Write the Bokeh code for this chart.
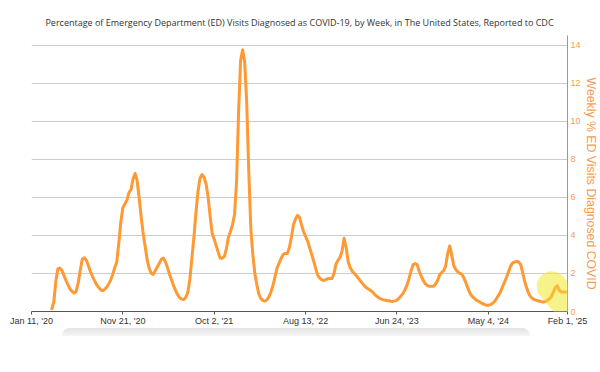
import math
import pandas as pd
from bokeh.plotting import figure
from bokeh.models import Range1d, FixedTicker, Div, Title, PolyAnnotation
from bokeh.layouts import column
from bokeh.embed import file_html
from bokeh.resources import INLINE

TITLE = ("Percentage of Emergency Department (ED) Visits Diagnosed as COVID-19, "
         "by Week, in The United States, Reported to CDC")
Y_LABEL = "Weekly % ED Visits Diagnosed COVID"

# weekly series, first week ending 2020-03-21
first_week = "2020-03-21"
pct_ed_visits = [
    0.14, 0.5, 1.6, 2.25, 2.28, 2.15, 1.9, 1.62, 1.4, 1.18,
    1.05, 0.97, 1.05, 1.5, 2.16, 2.75, 2.82, 2.7, 2.42, 2.1,
    1.85, 1.62, 1.42, 1.27, 1.15, 1.1, 1.15, 1.27, 1.45, 1.65,
    1.95, 2.3, 2.6, 3.6, 4.7, 5.45, 5.65, 5.85, 6.25, 6.4,
    6.95, 7.25, 6.9, 6.0, 5.0, 4.1, 3.4, 2.7, 2.25, 2.0,
    1.95, 2.15, 2.35, 2.55, 2.75, 2.8, 2.6, 2.3, 1.95, 1.65,
    1.35, 1.1, 0.88, 0.72, 0.65, 0.63, 0.75, 1.0, 1.7, 2.8,
    3.9, 5.2, 6.3, 7.0, 7.2, 7.05, 6.7, 6.0, 5.0, 4.1,
    3.8, 3.45, 3.1, 2.8, 2.8, 2.9, 3.3, 3.9, 4.2, 4.55,
    5.1, 6.8, 10.5, 13.2, 13.75, 13.1, 11.0, 7.4, 4.4, 3.0,
    2.0, 1.4, 0.9, 0.68, 0.57, 0.55, 0.62, 0.78, 1.05, 1.4,
    1.85, 2.3, 2.55, 2.8, 3.0, 3.05, 3.05, 3.35, 3.9, 4.55,
    4.85, 5.05, 4.95, 4.55, 4.2, 3.95, 3.7, 3.35, 3.0, 2.65,
    2.25, 1.9, 1.75, 1.66, 1.63, 1.68, 1.72, 1.74, 1.74, 2.0,
    2.5, 2.7, 2.85, 3.2, 3.85, 3.35, 2.6, 2.3, 2.12, 2.0,
    1.88, 1.75, 1.6, 1.48, 1.35, 1.24, 1.18, 1.1, 1.02, 0.9,
    0.8, 0.72, 0.66, 0.62, 0.6, 0.58, 0.57, 0.54, 0.53, 0.56,
    0.6, 0.7, 0.82, 0.95, 1.15, 1.4, 1.75, 2.15, 2.45, 2.52,
    2.45, 2.1, 1.85, 1.62, 1.45, 1.36, 1.33, 1.32, 1.33, 1.45,
    1.62, 1.92, 2.05, 2.15, 2.4, 3.05, 3.45, 2.95, 2.4, 2.2,
    2.08, 2.0, 1.95, 1.75, 1.5, 1.2, 0.95, 0.8, 0.7, 0.6,
    0.55, 0.48, 0.42, 0.38, 0.33, 0.33, 0.36, 0.42, 0.52, 0.68,
    0.85, 1.03, 1.3, 1.55, 1.8, 2.1, 2.4, 2.55, 2.6, 2.63,
    2.6, 2.45, 2.0, 1.55, 1.2, 0.92, 0.75, 0.66, 0.61, 0.58,
    0.55, 0.52, 0.5, 0.52, 0.58, 0.66, 0.78, 1.0, 1.25, 1.35,
    1.1, 1.02, 1.02, 1.02,
]

x_start = "2020-01-11"
x_end = "2025-02-01"
tick_dates = ["2020-01-11", "2020-11-21", "2021-10-02", "2022-08-13",
              "2023-06-24", "2024-05-04", "2025-02-01"]
tick_labels = ["Jan 11, '20", "Nov 21, '20", "Oct 2, '21", "Aug 13, '22",
               "Jun 24, '23", "May 4, '24", "Feb 1, '25"]
y_ticks = [0, 2, 4, 6, 8, 10, 12, 14]
y_max = 14.5

# highlighted latest weeks (yellow marker centre)
highlight_date = "2024-12-31"
highlight_val = 0.92
highlight_weeks = 12  # trailing weeks redrawn above the highlight

ORANGE = "#ff9933"
LABEL_ORANGE = "#f99b4e"

FRAME_W, FRAME_H = 536, 276

weeks = pd.date_range(first_week, periods=len(pct_ed_visits), freq="7D")


def ms(d):
    return int(pd.Timestamp(d).value // 10**6)


p = figure(
    x_axis_type="datetime",
    y_axis_location="right",
    x_range=Range1d(pd.Timestamp(x_start), pd.Timestamp(x_end)),
    y_range=Range1d(0, y_max),
    frame_width=FRAME_W, frame_height=FRAME_H,
    min_border_left=31, min_border_top=35, min_border_right=2, min_border_bottom=4,
    output_backend="svg", toolbar_location=None,
    background_fill_color="white", border_fill_color="white",
)
p.outline_line_color = None

p.title.text = TITLE
p.title.align = "center"
p.title.text_font = "Open Sans"
p.title.text_font_size = "9px"
p.title.text_font_style = "normal"
p.title.text_color = "#333333"
p.title.standoff = 13

p.line(weeks, pct_ed_visits, line_color=ORANGE, line_width=3,
       line_join="round", line_cap="round")

# highlight capsule built in pixel offsets around the highlighted point
px_per_ms = FRAME_W / (ms(x_end) - ms(x_start))
px_per_unit = FRAME_H / y_max
cap_half, cap_r, cap_angle = 10, 15, math.radians(-50)
ux, uy = math.cos(cap_angle), math.sin(cap_angle)
pts = []
for cx, cy, a0 in ((cap_half * ux, cap_half * uy, cap_angle - math.pi / 2),
                   (-cap_half * ux, -cap_half * uy, cap_angle + math.pi / 2)):
    for i in range(25):
        a = a0 + math.pi * i / 24
        pts.append((cx + cap_r * math.cos(a), cy + cap_r * math.sin(a)))
cx0, cy0 = ms(highlight_date), highlight_val
p.add_layout(PolyAnnotation(
    xs=[cx0 + dx / px_per_ms for dx, _ in pts],
    ys=[cy0 + dy / px_per_unit for _, dy in pts],
    xs_units="data", ys_units="data",
    fill_color="#f2ea3c", fill_alpha=0.6, line_color=None, level="annotation",
))

# trailing weeks of the series drawn again above the highlight
tail_x = [ms(w) for w in weeks[-highlight_weeks:]]
tail_y = pct_ed_visits[-highlight_weeks:]
p.add_layout(PolyAnnotation(
    xs=tail_x + tail_x[::-1], ys=tail_y + tail_y[::-1],
    xs_units="data", ys_units="data",
    fill_color=None, line_color=ORANGE, line_width=3, line_join="round",
    level="overlay",
))

# x axis
xa = p.xaxis[0]
xa.ticker = FixedTicker(ticks=[ms(d) for d in tick_dates])
xa.major_label_overrides = {ms(d): lab for d, lab in zip(tick_dates, tick_labels)}
xa.axis_line_color = "#555555"
xa.major_tick_line_color = "#555555"
xa.major_tick_out = 3
xa.major_tick_in = 0
xa.minor_tick_line_color = None
xa.major_label_standoff = 1
xa.major_label_text_font = "Liberation Sans"
xa.major_label_text_font_size = "9px"
xa.major_label_text_color = "#333333"

# y axis (right)
ya = p.yaxis[0]
ya.ticker = FixedTicker(ticks=y_ticks)
ya.axis_line_color = "#999999"
ya.major_tick_line_color = None
ya.minor_tick_line_color = None
ya.major_tick_out = 0
ya.major_tick_in = 0
ya.major_label_standoff = 3
ya.major_label_text_font = "Liberation Sans"
ya.major_label_text_font_size = "9px"
ya.major_label_text_color = LABEL_ORANGE

p.add_layout(Title(
    text=Y_LABEL, align="left", offset=42, standoff=0,
    text_font="Liberation Sans", text_font_size="12.3px", text_font_style="normal",
    text_color=LABEL_ORANGE,
), "right")

p.xgrid.visible = False
p.ygrid.ticker = FixedTicker(ticks=y_ticks[1:])
p.ygrid.grid_line_color = "#cccccc"
p.ygrid.grid_line_width = 1

bar = Div(
    text='<div style="margin-left:62px;width:468px;height:8px;'
         'background:linear-gradient(#e2e2e2,#f6f6f6);'
         'border-radius:8px 8px 0 0;"></div>',
    width=592, height=10, margin=(-4, 0, 0, 0),
)

layout = column(p, bar, spacing=0)

with open("out.html", "w") as f:
    f.write(file_html(layout, INLINE))
